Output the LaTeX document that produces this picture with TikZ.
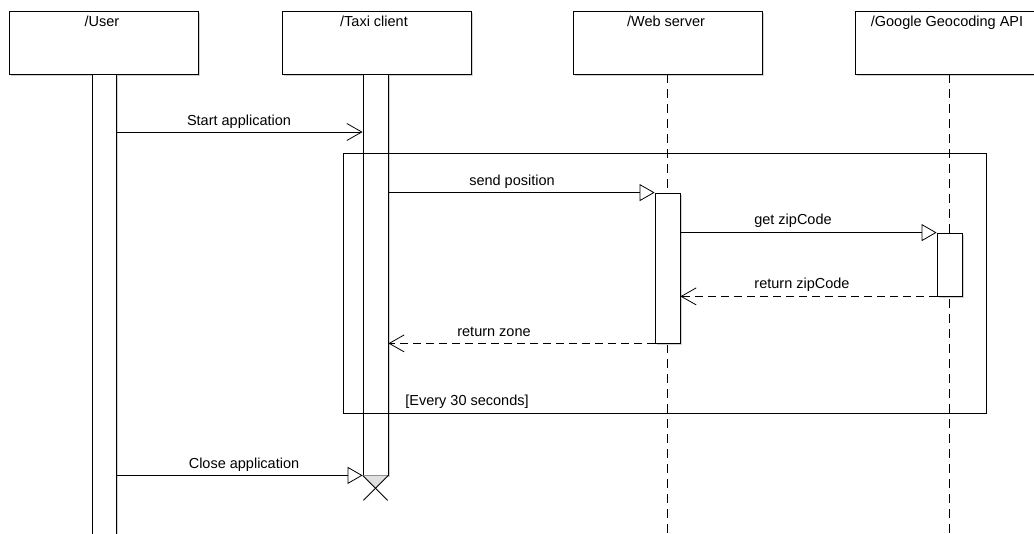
\documentclass[tikz,border=0pt]{standalone}
\usepackage{fontspec}
\setmainfont{Liberation Sans}
\usetikzlibrary{arrows.meta,shadows}
\begin{document}
\begin{tikzpicture}[x=1pt,y=-1pt,
  every path/.style={line width=0.8pt},
  lbl/.style={font=\fontsize{14.5}{16}\selectfont, inner sep=0pt, anchor=base},
  actor/.style={draw, fill=white, minimum width=189pt, minimum height=63pt, inner sep=0pt,
    drop shadow={shadow xshift=2pt, shadow yshift=-2pt, fill=black!18, opacity=1}},
  actbar/.style={draw, fill=white, minimum width=25pt, inner sep=0pt,
    drop shadow={shadow xshift=2pt, shadow yshift=-2pt, fill=black!18, opacity=1}},
  lifeline/.style={dash pattern=on 9pt off 6pt},
  syncmsg/.style={-{Triangle[open, length=15pt, width=17pt]}},
  openmsg/.style={-{Straight Barb[length=15pt, width=17pt]}},
  retmsg/.style={dash pattern=on 8pt off 5pt, -{Straight Barb[length=15pt, width=17pt]}}]
\useasboundingbox (0,0) rectangle (1034,534);
% actor boxes
\node[actor] (user) at (103.5,42.5) {};
\node[actor] (taxi) at (376.5,42.5) {};
\node[actor] (web) at (667.5,42.5) {};
\node[actor] (google) at (949.5,42.5) {};
\node[lbl] (userT) at (102,27) {/User};
\node[lbl] (taxiT) at (374,27) {/Taxi client};
\node[lbl] (webT) at (666,27) {/Web server};
\node[lbl] (googleT) at (947,27) {/Google Geocoding API};
% lifelines
\coordinate (webEnd) at (667.5,545);
\coordinate (googleEnd) at (949.5,545);
\draw[lifeline] (web.south) -- (webEnd);
\draw[lifeline] (google.south) -- (googleEnd);
% activation bars
\node[actbar, minimum width=24pt, minimum height=486pt] (ubar) at (104,317) {};
\node[actbar, minimum height=401pt] (tbar) at (375.5,274.5) {};
\node[actbar, minimum height=150pt] (wbar) at (667.5,268) {};
\node[actbar, minimum height=63pt] (gbar) at (949.5,264.5) {};
% loop frame
\node[draw, minimum width=643pt, minimum height=260pt, inner sep=0pt] (loop) at (664.5,283) {};
\node[lbl] (loopT) at (467,406) {[Every 30 seconds]};
% messages
\coordinate (m1) at (0,132);
\draw[openmsg] (ubar.east |- m1) -- (tbar.west |- m1);
\node[lbl] (m1T) at (239,126) {Start application};
\draw[syncmsg] (tbar.east |- wbar.north) -- (wbar.north west);
\node[lbl] (m2T) at (512,186) {send position};
\draw[syncmsg] (wbar.east |- gbar.north) -- (gbar.north west);
\node[lbl] (m3T) at (793,225) {get zipCode};
\draw[retmsg] (gbar.south west) -- (wbar.east |- gbar.south);
\node[lbl] (m4T) at (802,289) {return zipCode};
\draw[retmsg] (wbar.south west) -- (tbar.east |- wbar.south);
\node[lbl] (m5T) at (494,337) {return zone};
\draw[syncmsg] (ubar.east |- tbar.south) -- (tbar.south west);
\node[lbl] (m6T) at (244,468) {Close application};
% destruction
\fill[black!12] (tbar.south west) -- (tbar.south east) -- ++(-12.5,12.5) -- cycle;
\draw (tbar.south west) -- ++(25,25);
\draw (tbar.south east) -- ++(-25,25);
\end{tikzpicture}
\end{document}
